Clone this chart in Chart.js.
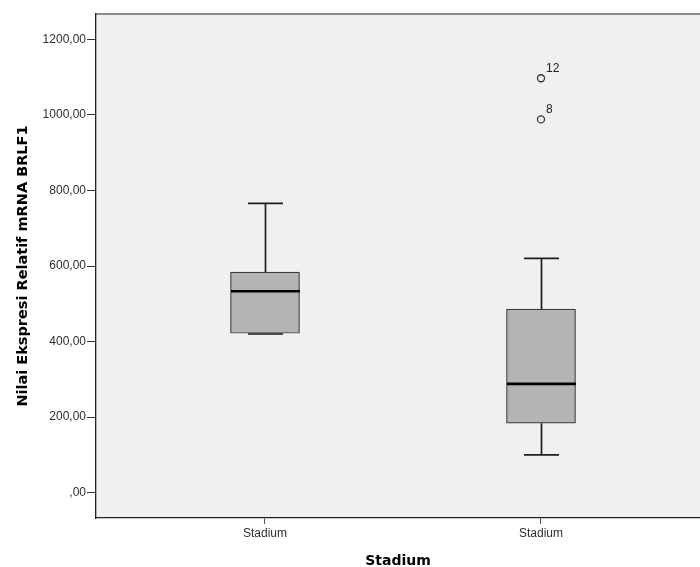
<!DOCTYPE html>
<html>
<head>
<meta charset="utf-8">
<script src="https://cdn.jsdelivr.net/npm/chart.js@4.4.1/dist/chart.umd.min.js"></script>
<style>
    html, body { margin: 0; padding: 0; background: #ffffff; overflow: hidden; }
    #wrap { width: 700px; height: 567px; }
</style>
</head>
<body>
<div id="wrap"><canvas id="box-chart" width="700" height="567"></canvas></div>
<script>
// Boxplot summary per group
const categories = ["Stadium", "Stadium"];
const whiskerLow = [420, 100];
const quartile1 = [422, 184];
const medians = [533, 288];
const quartile3 = [584, 486];
const whiskerHigh = [766, 620];

// Outliers: group index, value, case label
const outlierGroup = [1, 1];
const outlierValues = [1097, 988];
const outlierLabels = ["12", "8"];

const yTicks = [0, 200, 400, 600, 800, 1000, 1200];
const yTickLabels = [",00", "200,00", "400,00", "600,00", "800,00", "1000,00", "1200,00"];

const plotBackground = {
    id: 'plotBackground',
    beforeDraw(chart) {
        const { ctx, chartArea: a } = chart;
        ctx.save();
        ctx.fillStyle = '#f0f0f0';
        ctx.fillRect(a.left, a.top, a.right - a.left, a.bottom - a.top);
        ctx.strokeStyle = '#8a8a8a';
        ctx.lineWidth = 2;
        ctx.beginPath();
        ctx.moveTo(a.left, a.top);
        ctx.lineTo(a.right, a.top);
        ctx.stroke();
        ctx.restore();
    }
};

const whiskers = {
    id: 'whiskers',
    afterDatasetsDraw(chart) {
        const { ctx } = chart;
        const x = chart.scales.x;
        const y = chart.scales.y;
        ctx.save();
        categories.forEach((c, i) => {
            const cx = Math.round(x.getPixelForValue(i)) + 0.5;
            const half = 17.5;
            ctx.strokeStyle = '#1e1e1e';
            ctx.lineWidth = 1.7;
            // upper whisker
            ctx.beginPath();
            ctx.moveTo(cx, y.getPixelForValue(quartile3[i]));
            ctx.lineTo(cx, y.getPixelForValue(whiskerHigh[i]));
            ctx.moveTo(cx - half, y.getPixelForValue(whiskerHigh[i]));
            ctx.lineTo(cx + half, y.getPixelForValue(whiskerHigh[i]));
            // lower whisker
            ctx.moveTo(cx, y.getPixelForValue(quartile1[i]));
            ctx.lineTo(cx, y.getPixelForValue(whiskerLow[i]));
            ctx.moveTo(cx - half, y.getPixelForValue(whiskerLow[i]));
            ctx.lineTo(cx + half, y.getPixelForValue(whiskerLow[i]));
            ctx.stroke();
            // median
            ctx.strokeStyle = '#000';
            ctx.lineWidth = 2.6;
            ctx.beginPath();
            ctx.moveTo(cx - 34.5, y.getPixelForValue(medians[i]));
            ctx.lineTo(cx + 34.5, y.getPixelForValue(medians[i]));
            ctx.stroke();
        });
        // outlier case labels
        ctx.fillStyle = '#222';
        ctx.font = '12px "Liberation Sans", Arial, sans-serif';
        ctx.textBaseline = 'alphabetic';
        ctx.textAlign = 'left';
        outlierValues.forEach((v, k) => {
            const px = x.getPixelForValue(outlierGroup[k]);
            const py = y.getPixelForValue(v);
            ctx.fillText(outlierLabels[k], px + 5, py - 6);
        });
        ctx.restore();
    }
};

function drawChart() {
    const ctx = document.getElementById('box-chart').getContext('2d');

    new Chart(ctx, {
        type: 'bar',
        data: {
            datasets: [{
                data: categories.map((c, i) => ({ x: i, y: [quartile1[i], quartile3[i]] })),
                backgroundColor: '#b4b4b4',
                borderColor: '#3c3c3c',
                borderWidth: 1.2,
                borderSkipped: false,
                barThickness: 69,
            }, {
                type: 'scatter',
                data: outlierValues.map((v, k) => ({ x: outlierGroup[k], y: v })),
                pointStyle: 'circle',
                pointRadius: 3.5,
                pointBorderWidth: 1.3,
                borderColor: '#333',
                backgroundColor: 'rgba(0,0,0,0)',
            }]
        },
        options: {
            responsive: false,
            animation: false,
            layout: { autoPadding: false, padding: { top: 14, left: 0, right: 0, bottom: 0 } },
            plugins: {
                legend: { display: false },
                tooltip: { enabled: false }
            },
            scales: {
                x: {
                    type: 'linear',
                    min: -0.6123,
                    max: 1.5761,
                    offset: false,
                    afterBuildTicks: (scale) => {
                        scale.ticks = categories.map((c, i) => ({ value: i }));
                    },
                    afterFit: (scale) => { scale.height = 49; },
                    ticks: {
                        autoSkip: false,
                        maxRotation: 0,
                        padding: 2,
                        color: '#2e2e2e',
                        font: { family: '"Liberation Sans", Arial, sans-serif', size: 12 },
                        callback: (value) => categories[Math.round(value)]
                    },
                    grid: {
                        display: true,
                        offset: false,
                        drawOnChartArea: false,
                        drawTicks: true,
                        tickLength: 6,
                        tickColor: '#555'
                    },
                    border: { display: true, color: '#222', width: 1.3 },
                    title: {
                        display: true,
                        text: 'Stadium',
                        color: '#000',
                        padding: { top: 0, bottom: 0 },
                        font: { family: '"DejaVu Sans", sans-serif', size: 14, weight: 'bold', lineHeight: 0.85 }
                    }
                },
                y: {
                    min: -67,
                    max: 1267,
                    afterBuildTicks: (scale) => {
                        scale.ticks = yTicks.map(v => ({ value: v }));
                    },
                    afterFit: (scale) => { scale.width = 96; },
                    ticks: {
                        padding: 1,
                        color: '#2e2e2e',
                        font: { family: '"Liberation Sans", Arial, sans-serif', size: 12 },
                        callback: (value) => yTickLabels[yTicks.indexOf(value)]
                    },
                    grid: {
                        display: true,
                        drawOnChartArea: false,
                        drawTicks: true,
                        tickLength: 9,
                        tickColor: '#333'
                    },
                    border: { display: true, color: '#222', width: 1.3 },
                    title: {
                        display: true,
                        text: 'Nilai Ekspresi Relatif mRNA BRLF1',
                        color: '#000',
                        padding: { top: 15, bottom: 0 },
                        font: { family: '"DejaVu Sans", sans-serif', size: 14.5, weight: 'bold' }
                    }
                }
            }
        },
        plugins: [plotBackground, whiskers]
    });
}

window.addEventListener('load', drawChart);
</script>
</body>
</html>
